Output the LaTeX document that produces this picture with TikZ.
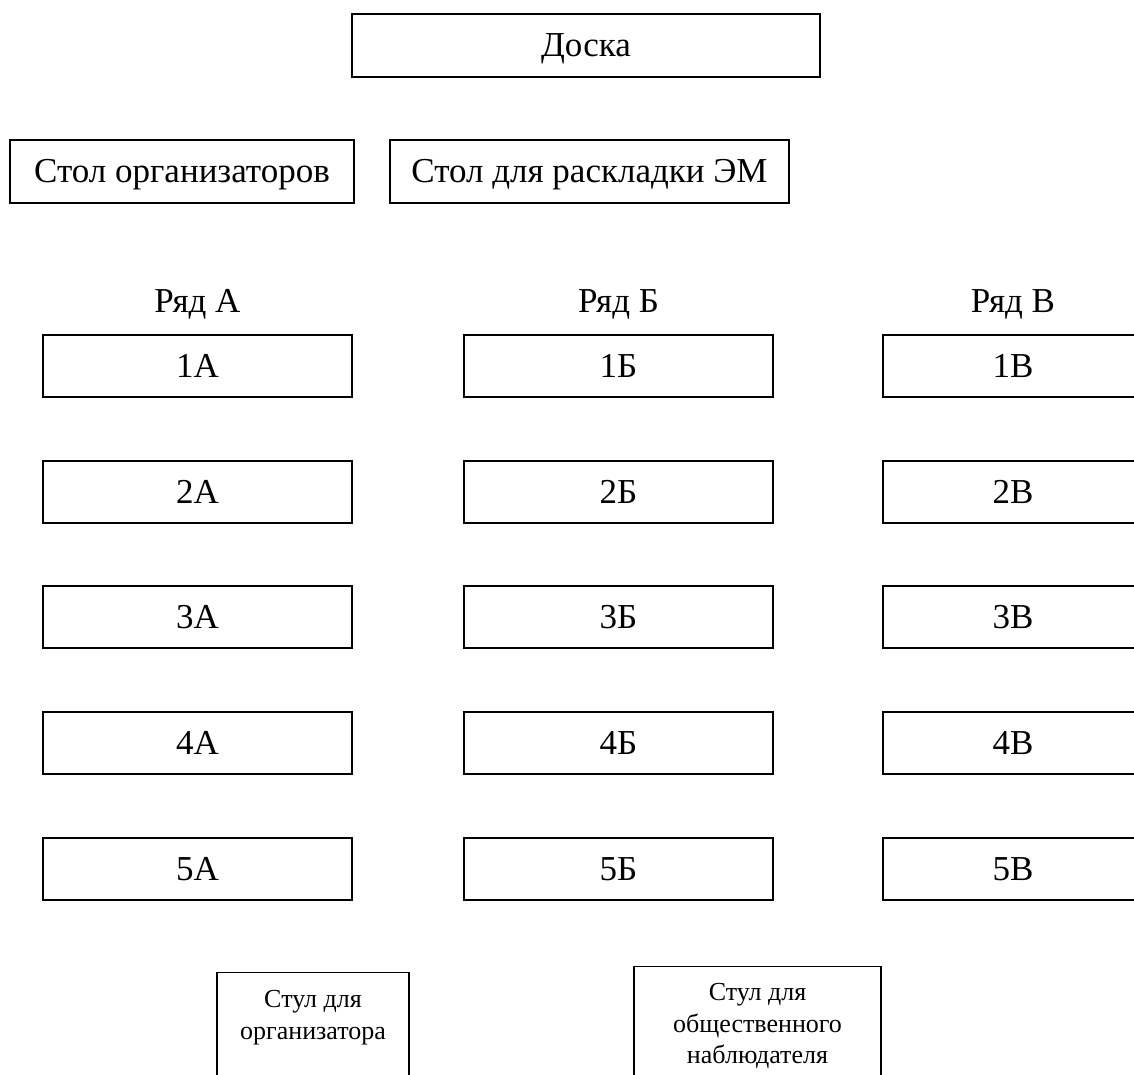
\documentclass[tikz,border=0pt]{standalone}
\usepackage{fontspec}
\setmainfont{Liberation Serif}
\begin{document}
\begin{tikzpicture}[x=1pt,y=-1pt,
  box/.style={draw, line width=2pt, inner sep=0pt, text height=23pt, text depth=0pt, font=\fontsize{35}{40}\selectfont},
  rowlabel/.style={anchor=base, inner sep=0pt, font=\fontsize{35}{40}\selectfont},
  chair/.style={draw, line width=1.2pt, inner sep=0pt, anchor=north},
  chairtext/.style={align=center, inner sep=0pt, anchor=north, font=\fontsize{26}{31.5}\selectfont}]
\useasboundingbox (0,0) rectangle (1134,1075);
% top
\node[box, minimum width=468, minimum height=63] (board) at (586,45.5) {Доска};
\node[box, minimum width=344, minimum height=63] (org) at (182,171.5) {Стол организаторов};
\node[box, minimum width=399, minimum height=63] (em) at (589.5,171.5) {Стол для раскладки ЭМ};
% row labels
\node[rowlabel] (ra) at (197.5,312) {Ряд А};
\node[rowlabel] (rb) at (618.5,312) {Ряд Б};
\node[rowlabel] (rv) at (1013,312) {Ряд В};
% desks
\foreach \i/\y in {1/366,2/492,3/617,4/743,5/869}{
  \node[box, minimum width=309, minimum height=62] (a\i) at (197.5,\y) {\i А};
  \node[box, minimum width=309, minimum height=62] (b\i) at (618.5,\y) {\i Б};
  \node[box, minimum width=260, minimum height=62] (v\i) at (1013,\y) {\i В};
}
% chairs
\node[chair, minimum width=192, minimum height=130] (c1) at (313,972) {};
\node[chairtext] (c1t) at (313,990.5) {Стул для\\организатора};
\node[chair, minimum width=247, minimum height=130] (c2) at (757.5,966) {};
\node[chairtext] (c2t) at (757.5,983.5) {Стул для\\общественного\\наблюдателя};
\end{tikzpicture}
\end{document}
